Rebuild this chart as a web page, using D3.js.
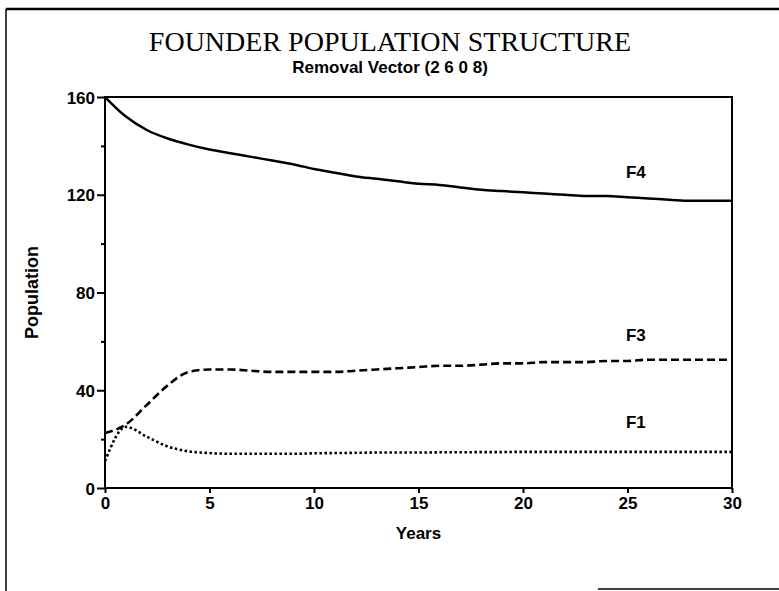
<!DOCTYPE html>
<html>
<head>
<meta charset="utf-8">
<script src="https://cdn.jsdelivr.net/npm/d3@7"></script>
<style>
  body { margin: 0; background: #fff; }
  svg { display: block; }
  .tick-label { font-family: 'Liberation Sans', Arial, sans-serif; font-weight: bold; font-size: 17px; }
</style>
</head>
<body>
<div id="chart"></div>
<script>
// years on the x axis
const years = d3.range(0, 31);

// founder lines (one value per year)
const f4 = [160, 152, 146.5, 143, 140.5, 138.5, 137, 135.5, 134, 132.5, 130.5, 129, 127.5, 126.5, 125.5,
  124.5, 124, 123, 122, 121.5, 121, 120.5, 120, 119.5, 119.5, 119, 118.5, 118, 117.5, 117.5, 117.5];
const f3 = [22.5, 26, 34, 42, 47.5, 48.5, 48.5, 48, 47.5, 47.5, 47.5, 47.5, 48, 48.5, 49, 49.5,
  50, 50, 50.5, 51, 51, 51.5, 51.5, 51.5, 52, 52, 52.5, 52.5, 52.5, 52.5, 52.5];
const f1 = [11, 25, 21, 17, 15, 14.3, 14, 14, 14, 14, 14.2, 14.3, 14.4, 14.5, 14.5, 14.5,
  14.6, 14.6, 14.7, 14.7, 14.8, 14.8, 14.8, 14.8, 14.8, 14.8, 14.8, 14.8, 14.8, 14.8, 14.8];

const xTicks = [0, 5, 10, 15, 20, 25, 30];
const yTicks = [0, 40, 80, 120, 160];
const yMinor = [20, 60, 100, 140];

const seriesNames = ['F4', 'F3', 'F1'];
const seriesLabelAt = [127, 60, 24.5]; // y value where the name is printed
const seriesDash = [null, '8,4', '2.5,2.5'];

const width = 779, height = 591;
const margin = { top: 97, right: 47, bottom: 103, left: 105 };

const svg = d3.select('#chart').append('svg')
  .attr('width', width)
  .attr('height', height);

// page frame of the scanned figure
svg.append('line').attr('x1', 6).attr('x2', 6).attr('y1', 9).attr('y2', height)
  .attr('stroke', '#000').attr('stroke-width', 1.5);
svg.append('line').attr('x1', 6).attr('x2', width).attr('y1', 9).attr('y2', 9)
  .attr('stroke', '#000').attr('stroke-width', 2.5);
svg.append('line').attr('x1', 598).attr('x2', width).attr('y1', 589).attr('y2', 589)
  .attr('stroke', '#000').attr('stroke-width', 1.5);

// titles
svg.append('text')
  .attr('x', 390).attr('y', 51)
  .attr('text-anchor', 'middle')
  .style('font-family', "'Liberation Serif', 'Times New Roman', serif")
  .style('font-size', '28px')
  .text('FOUNDER POPULATION STRUCTURE');

svg.append('text')
  .attr('x', 390).attr('y', 73)
  .attr('text-anchor', 'middle')
  .attr('class', 'tick-label')
  .style('font-size', '17px')
  .text('Removal Vector (2 6 0 8)');

const x = d3.scaleLinear().domain([0, 30]).range([margin.left, width - margin.right]);
const y = d3.scaleLinear().domain([0, 160]).range([height - margin.bottom, margin.top]);

const g = svg.append('g');

// plot box
g.append('rect')
  .attr('x', x(0)).attr('y', y(160))
  .attr('width', x(30) - x(0)).attr('height', y(0) - y(160))
  .attr('fill', 'none').attr('stroke', '#000').attr('stroke-width', 2);

// x axis
const xAxis = g.append('g')
  .attr('transform', `translate(0,${y(0)})`)
  .call(d3.axisBottom(x).tickValues(xTicks).tickSize(5).tickPadding(4));
xAxis.select('.domain').remove();
xAxis.selectAll('line').attr('stroke-width', 2);
xAxis.selectAll('text').attr('class', 'tick-label').attr('fill', '#000');

// y axis, major then minor ticks
const yAxis = g.append('g')
  .attr('transform', `translate(${x(0)},0)`)
  .call(d3.axisLeft(y).tickValues(yTicks).tickSize(8).tickPadding(2));
yAxis.select('.domain').remove();
yAxis.selectAll('line').attr('stroke-width', 2);
yAxis.selectAll('text').attr('class', 'tick-label').attr('fill', '#000').attr('dy', '0.36em');

const yAxisMinor = g.append('g')
  .attr('transform', `translate(${x(0)},0)`)
  .call(d3.axisLeft(y).tickValues(yMinor).tickSize(4).tickFormat(''));
yAxisMinor.select('.domain').remove();
yAxisMinor.selectAll('line').attr('stroke-width', 2);

// axis titles
svg.append('text')
  .attr('x', (x(0) + x(30)) / 2).attr('y', 539)
  .attr('text-anchor', 'middle')
  .attr('class', 'tick-label')
  .style('font-size', '17px')
  .text('Years');

svg.append('text')
  .attr('transform', `translate(38,${(y(0) + y(160)) / 2}) rotate(-90)`)
  .attr('text-anchor', 'middle')
  .attr('class', 'tick-label')
  .style('font-size', '18px')
  .text('Population');

// lines
const line = d3.line()
  .x((d, i) => x(years[i]))
  .y(d => y(d))
  .curve(d3.curveMonotoneX);

[f4, f3, f1].forEach((values, i) => {
  g.append('path')
    .datum(values)
    .attr('d', line)
    .attr('fill', 'none')
    .attr('stroke', '#000')
    .attr('stroke-width', i === 0 ? 2.5 : 2.6)
    .attr('stroke-dasharray', seriesDash[i]);

  g.append('text')
    .attr('x', x(25.4)).attr('y', y(seriesLabelAt[i]))
    .attr('text-anchor', 'middle')
    .attr('class', 'tick-label')
    .text(seriesNames[i]);
});
</script>
</body>
</html>
